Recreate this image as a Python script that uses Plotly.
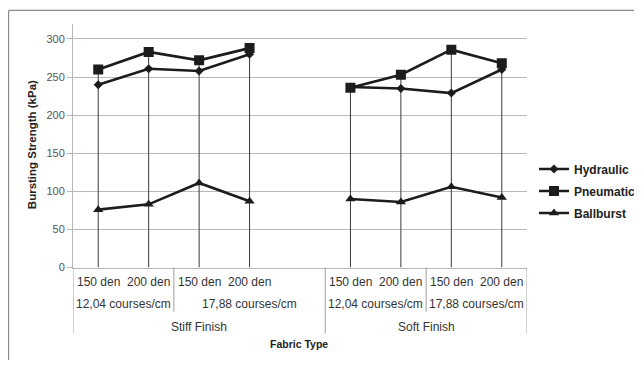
import plotly.graph_objects as go

# ---------------- data ----------------
den = ["150 den", "200 den", "150 den", "200 den", "", "150 den", "200 den", "150 den", "200 den"]
courses = ["12,04 courses/cm"] * 2 + ["17,88 courses/cm"] * 3 + ["12,04 courses/cm"] * 2 + ["17,88 courses/cm"] * 2
finish = ["Stiff Finish"] * 5 + ["Soft Finish"] * 4

hydraulic = [240, 261, 258, 280, None, 237, 235, 229, 260]
pneumatic = [260, 283, 272, 288, None, 236, 253, 286, 268]
ballburst = [76, 83, 111, 87, None, 90, 86, 106, 92]

y_ticks = [0, 50, 100, 150, 200, 250, 300]
y_title = "Bursting Strength (kPa)"
x_title = "Fabric Type"

# ---------------- layout constants (screen pixels) ----------------
OFF = 8                      # page body margin
W, H = 642 - OFF, 366 - OFF
PL, PR, PT, PB = 73, 527, 24, 272   # plot area edges (screen pixels)


def px_x(p):
    return (p - OFF) / W


def px_y(p):
    return 1 - (p - OFF) / H


x = list(range(len(den)))
LINE = "#1c1c1c"
GRID = "#b8b8b8"
TXT = "#333333"
FONT = "Liberation Sans, Arial, sans-serif"

fig = go.Figure()

# drop lines
dx, dy = [], []
for i in x:
    vals = [v for v in (hydraulic[i], pneumatic[i], ballburst[i]) if v is not None]
    if vals:
        dx += [i, i, None]
        dy += [0, max(vals), None]
fig.add_trace(go.Scatter(x=dx, y=dy, mode="lines", line=dict(color="#3a3a3a", width=1),
                         showlegend=False, hoverinfo="skip"))

series = [
    ("Hydraulic", hydraulic, "diamond", 7),
    ("Pneumatic", pneumatic, "square", 10),
    ("Ballburst", ballburst, "triangle-up", 9),
]
for name, vals, sym, sz in series:
    fig.add_trace(go.Scatter(
        x=x, y=vals, mode="lines+markers", name="<b>%s</b>" % name,
        legendgroup=name,
        line=dict(color=LINE, width=2.6),
        marker=dict(symbol=sym, size=sz, color=LINE),
    ))

annotations = []
shapes = []

# level 1 labels (per category)
for i, lab in enumerate(den):
    if lab:
        annotations.append(dict(x=i, y=px_y(287), xref="x", yref="paper", text=lab,
                                showarrow=False, font=dict(family=FONT, size=12, color=TXT),
                                xanchor="center", yanchor="middle"))


def runs(keys):
    out = []
    start = 0
    for i in range(1, len(keys) + 1):
        if i == len(keys) or keys[i] != keys[start]:
            out.append((start, i - 1, keys[start]))
            start = i
    return out


course_runs = runs(list(zip(finish, courses)))
finish_runs = runs(finish)

for s, e, key in course_runs:
    annotations.append(dict(x=(s + e) / 2, y=px_y(309), xref="x", yref="paper", text=key[1],
                            showarrow=False, font=dict(family=FONT, size=12, color=TXT),
                            xanchor="center", yanchor="middle"))
for s, e, key in finish_runs:
    annotations.append(dict(x=(s + e) / 2, y=px_y(332), xref="x", yref="paper", text=key,
                            showarrow=False, font=dict(family=FONT, size=12, color=TXT),
                            xanchor="center", yanchor="middle"))

# dividers
finish_bounds = set([-0.5] + [e + 0.5 for s, e, k in finish_runs])
course_bounds = set([e + 0.5 for s, e, k in course_runs]) - finish_bounds
for b in finish_bounds:
    shapes.append(dict(type="line", xref="x", yref="paper", x0=b, x1=b, y0=px_y(PB), y1=px_y(339),
                       line=dict(color="#a0a0a0", width=1)))
for b in course_bounds:
    shapes.append(dict(type="line", xref="x", yref="paper", x0=b, x1=b, y0=px_y(PB), y1=px_y(317),
                       line=dict(color="#a0a0a0", width=1)))

# chart border (left and top visible)
shapes.append(dict(type="line", xref="paper", yref="paper", x0=px_x(8.6), x1=px_x(8.6),
                   y0=0, y1=px_y(10.5), line=dict(color="#8a8a8a", width=1.2)))
shapes.append(dict(type="line", xref="paper", yref="paper", x0=px_x(8.6), x1=1,
                   y0=px_y(10.5), y1=px_y(10.5), line=dict(color="#8a8a8a", width=1.2)))

# titles
annotations.append(dict(x=px_x(31.5), y=px_y(147), xref="paper", yref="paper", text="<b>%s</b>" % y_title,
                        textangle=-90, showarrow=False, font=dict(family=FONT, size=11.5, color="#222"),
                        xanchor="center", yanchor="middle"))
annotations.append(dict(x=px_x(299), y=px_y(350), xref="paper", yref="paper", text="<b>%s</b>" % x_title,
                        showarrow=False, font=dict(family=FONT, size=10.5, color="#222"),
                        xanchor="center", yanchor="middle"))

fig.update_layout(
    width=W, height=H,
    margin=dict(l=0, r=0, t=0, b=0, pad=0),
    paper_bgcolor="white", plot_bgcolor="white",
    font=dict(family=FONT, color=TXT),
    showlegend=True,
    legend=dict(x=px_x(534), y=px_y(157), xanchor="left", yanchor="top",
                font=dict(family=FONT, size=12, color="#222"),
                tracegroupgap=3, itemwidth=30, bgcolor="rgba(0,0,0,0)"),
    xaxis=dict(domain=[px_x(PL), px_x(PR)], range=[-0.5, len(den) - 0.5], showgrid=False, zeroline=False,
               showline=True, linecolor=GRID, linewidth=1,
               showticklabels=False, ticks=""),
    yaxis=dict(domain=[px_y(PB), px_y(PT)], range=[0, 320], tickvals=y_ticks, showgrid=True,
               gridcolor=GRID, gridwidth=1,
               zeroline=False, showline=True, linecolor=GRID, linewidth=1,
               ticks="outside", ticklen=5, tickcolor=GRID,
               tickfont=dict(family=FONT, size=11, color="#555")),
    annotations=annotations,
    shapes=shapes,
)

fig.write_html("out.html")
